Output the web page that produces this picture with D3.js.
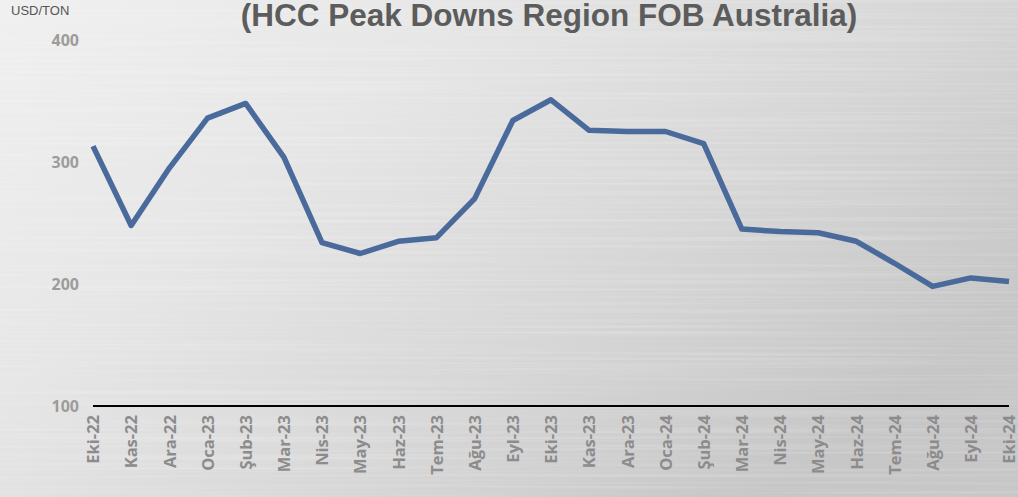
<!doctype html>
<html>
<head>
  <meta charset="utf-8">
  <title>HCC Peak Downs Region FOB Australia</title>
  <style>
    body { margin: 0; padding: 0; overflow: hidden; }
    svg { display: block; }
  </style>
</head>
<body>
  <script src="https://d3js.org/d3.v7.min.js"></script>
  <script>
    // data
    var months = ['Eki-22', 'Kas-22', 'Ara-22', 'Oca-23', 'Şub-23', 'Mar-23', 'Nis-23', 'May-23',
      'Haz-23', 'Tem-23', 'Ağu-23', 'Eyl-23', 'Eki-23', 'Kas-23', 'Ara-23', 'Oca-24', 'Şub-24',
      'Mar-24', 'Nis-24', 'May-24', 'Haz-24', 'Tem-24', 'Ağu-24', 'Eyl-24', 'Eki-24'];
    var prices = [313, 248, 295, 336, 348, 304, 234, 225, 235, 238, 270, 334, 351, 326, 325, 325, 315,
      245, 243, 242, 235, 217, 198, 205, 202];
    var yTicks = [100, 200, 300, 400];
    var title = '(HCC Peak Downs Region FOB Australia)';
    var unit = 'USD/TON';

    var W = 1018, H = 497;
    var mLeft = 93, mRight = 1009, mTop = 40, mBottom = 406;

    var svg = d3.select('body').append('svg')
      .attr('width', W)
      .attr('height', H);

    var defs = svg.append('defs');
    var grad = defs.append('linearGradient')
      .attr('id', 'bg')
      .attr('x1', '0').attr('y1', '0')
      .attr('x2', '1').attr('y2', '0.6');
    grad.append('stop').attr('offset', '0').attr('stop-color', '#f0f0f0');
    grad.append('stop').attr('offset', '0.35').attr('stop-color', '#e6e6e6');
    grad.append('stop').attr('offset', '0.7').attr('stop-color', '#d6d6d6');
    grad.append('stop').attr('offset', '1').attr('stop-color', '#c6c6c6');

    // brushed streaks
    var filt = defs.append('filter').attr('id', 'brush')
      .attr('x', 0).attr('y', 0).attr('width', 1).attr('height', 1);
    filt.append('feTurbulence')
      .attr('type', 'fractalNoise')
      .attr('baseFrequency', '0.002 0.35')
      .attr('numOctaves', 2)
      .attr('seed', 4);
    filt.append('feColorMatrix')
      .attr('type', 'matrix')
      .attr('values', '0 0 0 0 1  0 0 0 0 1  0 0 0 0 1  0 0 0 0.5 -0.22');

    svg.append('rect')
      .attr('width', W).attr('height', H)
      .attr('fill', 'url(#bg)');
    svg.append('rect')
      .attr('width', W).attr('height', H)
      .attr('filter', 'url(#brush)');

    var x = d3.scalePoint()
      .domain(months)
      .range([mLeft, mRight]);

    var y = d3.scaleLinear()
      .domain([100, 400])
      .range([mBottom, mTop]);

    // y axis labels
    var yAxis = d3.axisLeft(y)
      .tickValues(yTicks)
      .tickSize(0)
      .tickPadding(14);
    var gy = svg.append('g')
      .attr('transform', 'translate(' + mLeft + ',0)')
      .call(yAxis);
    gy.select('.domain').remove();
    gy.selectAll('text')
      .attr('fill', '#9c9c9c')
      .style('font-family', '"Open Sans", sans-serif')
      .style('font-weight', 'bold')
      .style('font-size', '16px');

    // x axis
    var xAxis = d3.axisBottom(x)
      .tickSize(0)
      .tickPadding(0);
    var gx = svg.append('g')
      .attr('transform', 'translate(0,' + mBottom + ')')
      .call(xAxis);
    gx.select('.domain')
      .attr('d', 'M' + mLeft + ',0H' + mRight)
      .attr('stroke', '#000')
      .attr('stroke-width', 2);
    gx.selectAll('text')
      .attr('fill', '#8c8c8c')
      .style('font-family', '"Open Sans", sans-serif')
      .style('font-weight', 'bold')
      .style('font-size', '16.5px')
      .attr('text-anchor', 'end')
      .attr('dy', '0.35em')
      .attr('transform', 'translate(0,9) rotate(-90)');

    // line
    var line = d3.line()
      .x(function(d, i) { return x(months[i]); })
      .y(function(d) { return y(d); });

    svg.append('path')
      .datum(prices)
      .attr('d', line)
      .attr('fill', 'none')
      .attr('stroke', '#4a6a9c')
      .attr('stroke-width', 5.5)
      .attr('stroke-linejoin', 'round');

    // title and unit
    svg.append('text')
      .attr('x', 549)
      .attr('y', 26)
      .attr('text-anchor', 'middle')
      .attr('fill', '#5c5c5c')
      .style('font-family', '"Liberation Sans", Arial, sans-serif')
      .style('font-weight', 'bold')
      .style('font-size', '31.5px')
      .text(title);

    svg.append('text')
      .attr('x', 11)
      .attr('y', 15)
      .attr('fill', '#555')
      .style('font-family', '"Liberation Sans", Arial, sans-serif')
      .style('font-size', '13px')
      .text(unit);
  </script>
</body>
</html>
